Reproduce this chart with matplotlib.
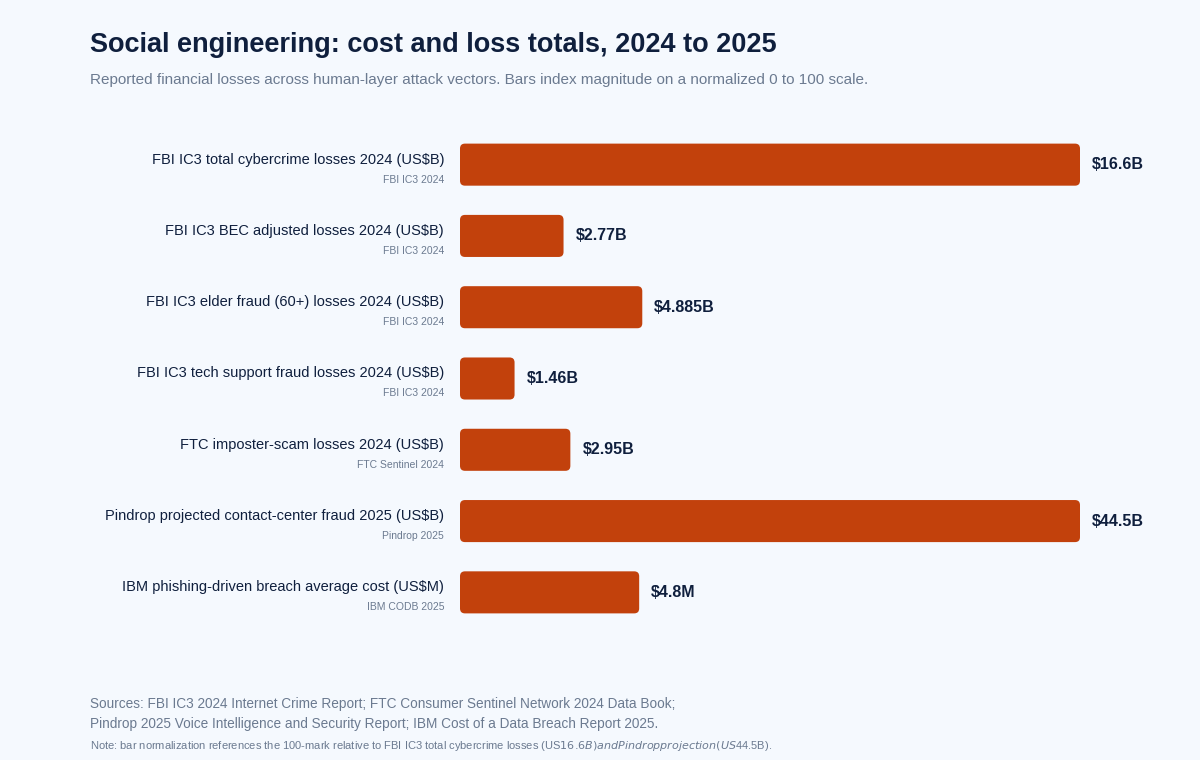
import matplotlib.pyplot as plt
from matplotlib.patches import FancyBboxPatch

plt.rcParams['font.family'] = ['Liberation Sans', 'DejaVu Sans']

# chart data
labels = [
    "FBI IC3 total cybercrime losses 2024 (US$B)",
    "FBI IC3 BEC adjusted losses 2024 (US$B)",
    "FBI IC3 elder fraud (60+) losses 2024 (US$B)",
    "FBI IC3 tech support fraud losses 2024 (US$B)",
    "FTC imposter-scam losses 2024 (US$B)",
    "Pindrop projected contact-center fraud 2025 (US$B)",
    "IBM phishing-driven breach average cost (US$M)",
]
sources = ["FBI IC3 2024", "FBI IC3 2024", "FBI IC3 2024", "FBI IC3 2024",
           "FTC Sentinel 2024", "Pindrop 2025", "IBM CODB 2025"]
index_values = [100, 16.7, 29.4, 8.8, 17.8, 100, 28.9]
value_text = ["$16.6B", "$2.77B", "$4.885B", "$1.46B", "$2.95B", "$44.5B", "$4.8M"]

bg = "#f5f9fe"
bar_color = "#c2410c"
ink = "#0f1f3d"
grey = "#6b7a90"

fig = plt.figure(figsize=(12, 7.6), dpi=100, facecolor=bg)
ax = fig.add_axes([460 / 1200, 1 - 628 / 760, 620 / 1200, 499 / 760])
ax.set_facecolor(bg)
ax.set_xlim(0, 100)
ax.set_ylim(6.5, -0.5)
ax.axis("off")

for i, v in enumerate(index_values):
    h = 0.59
    ax.add_patch(FancyBboxPatch((0, i - h / 2), v, h,
                                boxstyle="round,pad=0,rounding_size=0.8",
                                mutation_aspect=0.087, facecolor=bar_color,
                                edgecolor="none"))
    ax.annotate(value_text[i], (v, i), xytext=(12, 0), textcoords="offset pixels",
                ha="left", va="center", fontsize=11.5, fontweight="bold", color=ink)
    ax.annotate(labels[i], (0, i), xycoords=("axes fraction", "data"),
                xytext=(-16, 5), textcoords="offset pixels",
                ha="right", va="center", fontsize=10.5, color=ink)
    ax.annotate(sources[i], (0, i), xycoords=("axes fraction", "data"),
                xytext=(-16, -15), textcoords="offset pixels",
                ha="right", va="center", fontsize=7.5, color=grey)

fig.text(90 / 1200, 1 - 45 / 760, "Social engineering: cost and loss totals, 2024 to 2025",
         fontsize=19.5, fontweight="bold", color=ink, va="center")
fig.text(90 / 1200, 1 - 80 / 760,
         "Reported financial losses across human-layer attack vectors. Bars index magnitude on a normalized 0 to 100 scale.",
         fontsize=11, color=grey, va="center")
fig.text(90 / 1200, 1 - 704 / 760,
         "Sources: FBI IC3 2024 Internet Crime Report; FTC Consumer Sentinel Network 2024 Data Book;",
         fontsize=9.8, color=grey, va="center")
fig.text(90 / 1200, 1 - 724 / 760,
         "Pindrop 2025 Voice Intelligence and Security Report; IBM Cost of a Data Breach Report 2025.",
         fontsize=9.8, color=grey, va="center")
fig.text(90 / 1200, 1 - 746 / 760,
         "Note: bar normalization references the 100-mark relative to FBI IC3 total cybercrime losses (US$16.6B) and Pindrop projection (US$44.5B).",
         fontsize=8, color=grey, va="center")

fig.savefig("out.png", dpi=100, facecolor=bg)
